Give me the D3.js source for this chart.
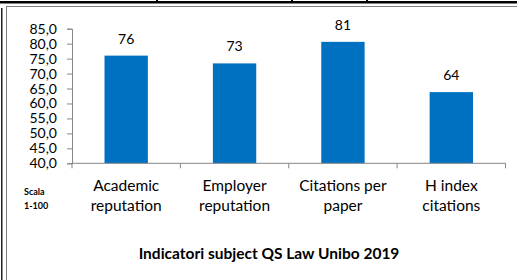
<!DOCTYPE html>
<html>
<head>
<meta charset="utf-8">
<script src="https://cdn.jsdelivr.net/npm/d3@7"></script>
<style>
  body { margin: 0; background: #fff; }
  text { font-family: Lato, "Open Sans", sans-serif; fill: #000; }
</style>
</head>
<body>
<script>
let categories = [["Academic", "reputation"], ["Employer", "reputation"], ["Citations per", "paper"], ["H index", "citations"]]
let values = [76.0, 73.4, 80.6, 63.8]
let labels = ["76", "73", "81", "64"]
let yTicks = [40, 45, 50, 55, 60, 65, 70, 75, 80, 85]
let title = "Indicatori subject QS Law Unibo 2019"
let scaleNote = ["Scala", "1-100"]

let w = 517
let h = 280
let svg = d3.select("body").append("svg").attr("width", w).attr("height", h)

// outer page lines (table above + frame)
svg.append("rect").attr("x", 0).attr("y", 1).attr("width", w).attr("height", 2.5).attr("fill", "#000")
;[157, 292, 367].forEach(x => svg.append("rect").attr("x", x - 1).attr("y", 0).attr("width", 2).attr("height", 3).attr("fill", "#000"))
svg.append("rect").attr("x", 1).attr("y", 8).attr("width", 1.5).attr("height", h).attr("fill", "#222")
svg.append("rect").attr("x", 6.5).attr("y", 6.5).attr("width", w + 20).attr("height", h + 20)
    .attr("fill", "none").attr("stroke", "#7f7f7f").attr("stroke-width", 1)

let mLeft = 72, mRight = 505.5, mTop = 28.7, mBottom = 163.3
let x = d3.scaleBand().domain(d3.range(values.length)).range([mLeft, mRight]).paddingInner(0.6).paddingOuter(0.3)
let y = d3.scaleLinear().domain([40, 85]).range([mBottom, mTop])

svg.selectAll("rect.bar").data(values).enter().append("rect")
    .attr("class", "bar")
    .attr("x", (d, i) => x(i))
    .attr("y", d => y(d))
    .attr("width", x.bandwidth())
    .attr("height", d => mBottom - y(d))
    .attr("fill", "#0070C0")

svg.selectAll("text.val").data(values).enter().append("text")
    .attr("class", "val")
    .attr("x", (d, i) => x(i) + x.bandwidth() / 2)
    .attr("y", d => y(d) - 12)
    .attr("text-anchor", "middle")
    .attr("font-size", 14)
    .text((d, i) => labels[i])

let yAxis = d3.axisLeft(y).tickValues(yTicks).tickSize(5).tickPadding(10)
    .tickFormat(d => d3.format(".1f")(d).replace(".", ","))
let ya = svg.append("g").attr("transform", `translate(${mLeft},0)`).call(yAxis)
ya.selectAll("path, line").attr("stroke", "#868686")
ya.selectAll("text").attr("font-size", 14).attr("font-family", "Lato, sans-serif").attr("fill", "#000")

// x axis with boundary ticks
let xa = svg.append("g")
xa.append("line").attr("x1", mLeft).attr("x2", mRight).attr("y1", mBottom).attr("y2", mBottom).attr("stroke", "#868686")
let step = x.step()
d3.range(values.length + 1).forEach(i => {
    let px = mLeft + i * step
    xa.append("line").attr("x1", px).attr("x2", px).attr("y1", mBottom).attr("y2", mBottom + 5).attr("stroke", "#868686")
})
categories.forEach((c, i) => {
    let t = xa.append("text").attr("text-anchor", "middle").attr("font-size", 15.5)
    c.forEach((line, j) => t.append("tspan").attr("x", x(i) + x.bandwidth() / 2).attr("y", 191 + j * 20).text(line))
})

scaleNote.forEach((s, j) => svg.append("text").attr("x", 24).attr("y", 195 + j * 14)
    .attr("font-size", 9).attr("font-weight", "bold").text(s))

svg.append("text").attr("x", 269).attr("y", 259).attr("text-anchor", "middle")
    .attr("font-size", 15.5).attr("font-weight", "bold").text(title)
</script>
</body>
</html>
